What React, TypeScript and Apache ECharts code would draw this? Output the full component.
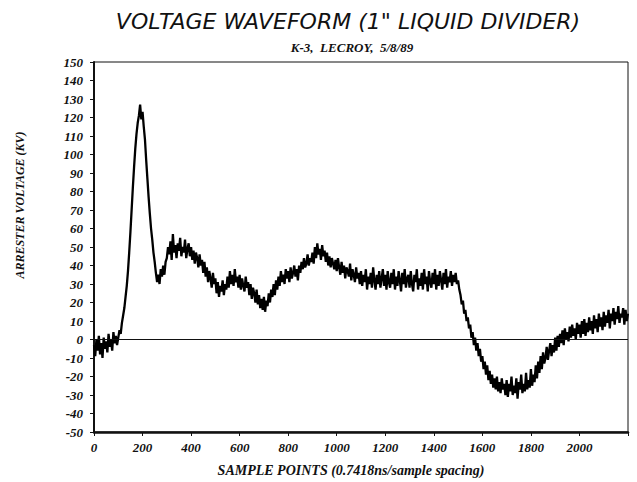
import React, { useEffect, useRef } from "react";
import * as echarts from "echarts";

const titleText = "VOLTAGE WAVEFORM (1\" LIQUID DIVIDER)";
const subtitleText = "K-3,  LECROY,  5/8/89";
const yAxisTitle = "ARRESTER VOLTAGE (KV)";
const xAxisTitle = "SAMPLE POINTS (0.7418ns/sample spacing)";

// one reading every 5 sample points, starting at sample 0
const sampleStep = 5;
const voltage: number[] = [
  -3, -9, 0, -6, 2, -8, -2, -10, 1, -5, -1, -7, 3, -4, 0, -6, 4, -2, 2, -3,
  1, 5, 3, 9, 13, 17, 23, 29, 37, 47, 58, 70, 82, 93, 103, 111, 117, 121, 127, 119,
  123, 115, 108, 97, 87, 77, 68, 60, 54, 47, 42, 36, 31, 35, 30, 38, 34, 40, 35, 42,
  44, 50, 46, 53, 43, 57, 47, 51, 44, 52, 48, 55, 45, 50, 47, 54, 44, 49, 52, 45,
  50, 43, 48, 41, 47, 44, 39, 46, 40, 43, 36, 42, 34, 39, 31, 37, 33, 28, 36, 30,
  33, 25, 31, 23, 29, 26, 32, 24, 30, 27, 34, 28, 37, 30, 35, 29, 38, 31, 34, 28,
  35, 27, 33, 29, 26, 34, 28, 31, 24, 30, 22, 28, 25, 20, 27, 19, 24, 17, 22, 16,
  23, 15, 21, 18, 25, 20, 27, 23, 30, 24, 32, 27, 34, 29, 37, 31, 35, 30, 38, 33,
  37, 31, 39, 33, 36, 40, 34, 38, 32, 40, 36, 42, 38, 44, 39, 41, 46, 40, 44, 42,
  47, 41, 50, 44, 52, 46, 49, 43, 51, 45, 48, 42, 47, 40, 45, 39, 44, 41, 38, 43,
  37, 44, 39, 35, 42, 36, 40, 33, 39, 37, 34, 41, 32, 38, 35, 31, 39, 33, 36, 30,
  37, 29, 35, 31, 38, 27, 34, 30, 36, 28, 39, 32, 27, 35, 30, 37, 28, 33, 38, 29,
  35, 27, 37, 31, 28, 36, 30, 38, 27, 34, 29, 37, 32, 26, 36, 30, 38, 28, 33, 35,
  28, 37, 30, 26, 35, 31, 38, 27, 33, 29, 36, 27, 38, 30, 34, 26, 37, 31, 28, 36,
  30, 38, 27, 35, 29, 37, 32, 27, 36, 30, 38, 28, 34, 31, 37, 29, 35, 31, 36, 30,
  32, 27, 24, 19, 21, 14, 16, 10, 12, 6, 8, 1, 4, -3, 1, -6, -2, -9, -5, -12,
  -9, -16, -12, -19, -14, -22, -17, -24, -19, -26, -21, -27, -20, -28, -23, -29, -21, -27, -24, -30,
  -22, -31, -24, -28, -20, -30, -25, -29, -21, -32, -23, -27, -19, -29, -24, -28, -18, -27, -22, -26,
  -16, -25, -19, -23, -14, -21, -12, -18, -9, -16, -7, -13, -10, -4, -11, -6, -2, -9, -3, -7,
  1, -6, 2, -4, 3, -2, 5, -3, 6, 0, 4, -1, 7, 1, 8, 2, 6, 0, 9, 3,
  8, 1, 10, 3, 11, 2, 9, 4, 12, 5, 10, 3, 13, 6, 11, 4, 14, 7, 12, 5,
  15, 7, 13, 9, 16, 6, 14, 10, 17, 8, 15, 11, 18, 9, 14, 12, 17, 8, 16, 10,
  14,
];

const xTickValues = [0, 200, 400, 600, 800, 1000, 1200, 1400, 1600, 1800, 2000];

export default function App() {
  const ref = useRef<HTMLDivElement>(null);
  useEffect(() => {
    if (!ref.current) return;
    const chart = echarts.init(ref.current, null, { renderer: "svg" });
    const data = voltage.map((v, i) => [i * sampleStep, v]);
    const labelFont = {
      fontFamily: "Liberation Serif",
      fontStyle: "italic",
      fontWeight: "bold",
      fontSize: 13,
      color: "#111",
    };
    chart.setOption({
      animation: false,
      backgroundColor: "#fff",
      grid: {
        left: 94,
        right: 9,
        top: 62,
        bottom: 50,
        show: true,
        borderColor: "#111",
        borderWidth: 1,
        backgroundColor: "transparent",
      },
      xAxis: {
        type: "value",
        min: 0,
        max: 2200,
        interval: 200,
        splitLine: { show: false },
        axisLine: { show: true, onZero: false, lineStyle: { color: "#111", width: 2.5 } },
        axisTick: { show: true, length: 4, lineStyle: { color: "#111" } },
        axisLabel: {
          ...labelFont,
          margin: 9,
          formatter: (v: number) => (xTickValues.indexOf(v) >= 0 ? String(v) : ""),
        },
      },
      yAxis: {
        type: "value",
        min: -50,
        max: 150,
        interval: 10,
        splitLine: { show: false },
        axisLine: { show: true, onZero: false, lineStyle: { color: "#111", width: 2 } },
        axisTick: { show: true, length: 4, lineStyle: { color: "#111" } },
        axisLabel: { ...labelFont, margin: 11 },
      },
      series: [
        {
          type: "line",
          data,
          symbol: "none",
          lineStyle: { color: "#000", width: 2.3 },
          markLine: {
            silent: true,
            symbol: "none",
            label: { show: false },
            lineStyle: { color: "#111", type: "solid", width: 1.2 },
            data: [{ yAxis: 0 }],
          },
        },
      ],
      graphic: [
        {
          type: "text",
          x: 348,
          y: 21,
          style: {
            text: titleText,
            fontFamily: "DejaVu Sans",
            fontStyle: "italic",
            fontWeight: 300,
            fontSize: 22,
            fill: "#111",
            textAlign: "center",
            textVerticalAlign: "middle",
          },
        },
        {
          type: "text",
          x: 352,
          y: 47,
          style: {
            text: subtitleText,
            fontFamily: "Liberation Serif",
            fontStyle: "italic",
            fontWeight: "bold",
            fontSize: 13,
            fill: "#111",
            textAlign: "center",
            textVerticalAlign: "middle",
          },
        },
        {
          type: "text",
          x: 20,
          y: 205,
          rotation: Math.PI / 2,
          style: {
            text: yAxisTitle,
            fontFamily: "Liberation Serif",
            fontStyle: "italic",
            fontWeight: "bold",
            fontSize: 12,
            fill: "#111",
            textAlign: "center",
            textVerticalAlign: "middle",
          },
        },
        {
          type: "text",
          x: 351,
          y: 470,
          style: {
            text: xAxisTitle,
            fontFamily: "Liberation Serif",
            fontStyle: "italic",
            fontWeight: "bold",
            fontSize: 14,
            fill: "#111",
            textAlign: "center",
            textVerticalAlign: "middle",
          },
        },
      ],
    });
    return () => chart.dispose();
  }, []);
  return (
    <div
      ref={ref}
      style={{ position: "fixed", left: 0, top: 0, width: 637, height: 482, background: "#fff" }}
    />
  );
}
